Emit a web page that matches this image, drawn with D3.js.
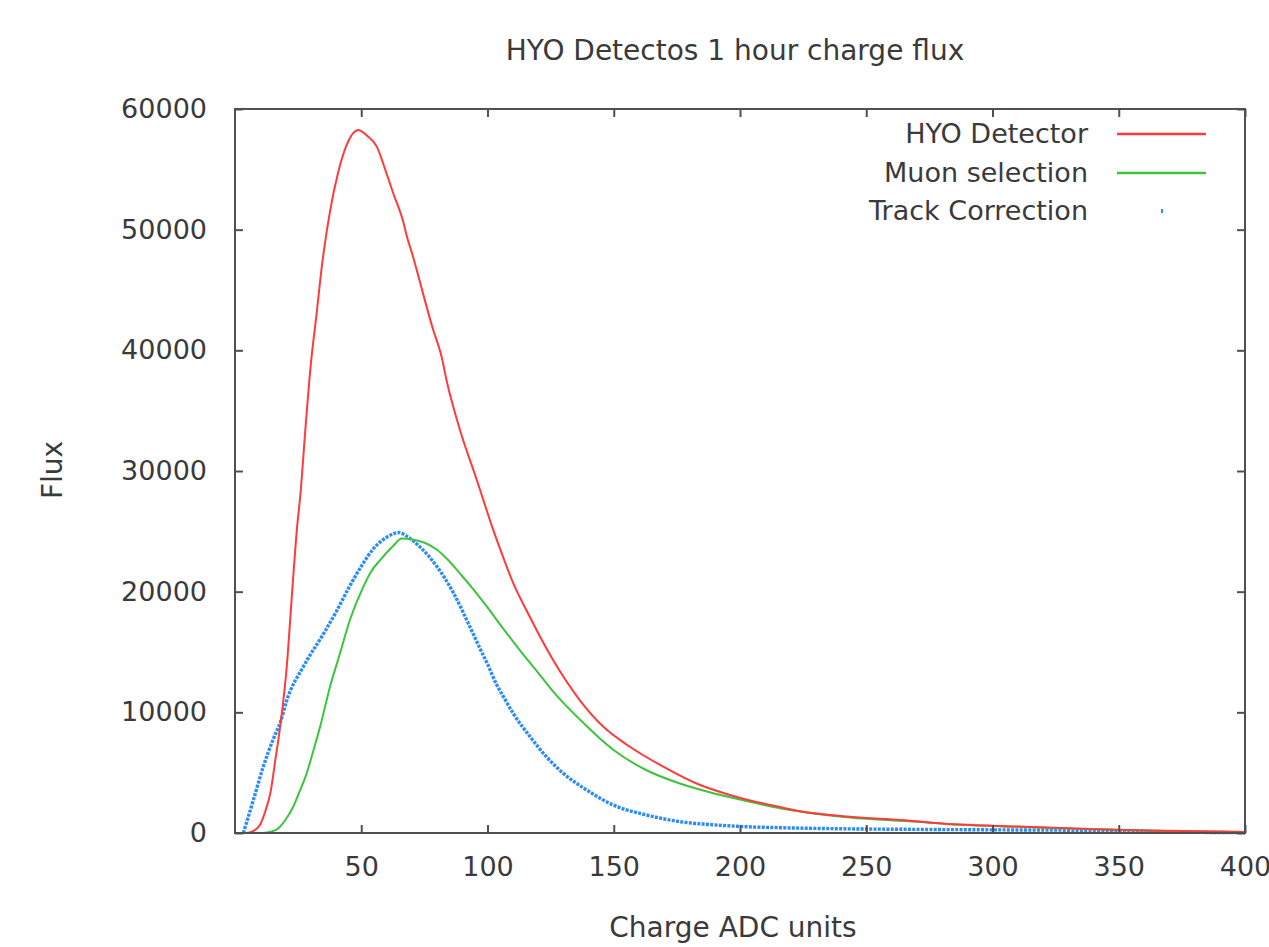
<!DOCTYPE html>
<html>
<head>
<meta charset="utf-8">
<script src="https://cdn.jsdelivr.net/npm/d3@7/dist/d3.min.js"></script>
<style>
  html, body { margin: 0; padding: 0; background: #ffffff; }
  svg { display: block; }
  text { font-family: "DejaVu Sans", sans-serif; fill: #3a3a3a; }
</style>
</head>
<body>
<svg id="chart" width="1269" height="947"></svg>
<script>
// ---- Data ----
const seriesNames = ["HYO Detector", "Muon selection", "Track Correction"];
const seriesColors = ["#ff3b3b", "#3cc43c", "#2a8cf8"];

const xTicks = [50, 100, 150, 200, 250, 300, 350, 400];
const yTicks = [0, 10000, 20000, 30000, 40000, 50000, 60000];

const hyoCharge = [5, 7.5, 10, 12, 14, 16, 18, 20.5, 22.4, 24.4, 26, 28, 30, 32.3, 34.3, 37.6, 40.8, 44.2, 48.8, 52.2, 56.1, 60.1, 62.7, 66.7, 68, 70.6, 74.6, 78.2, 81.9, 83.8, 89.1, 95.7, 102.3, 106.3, 110.2, 116.8, 120, 126.1, 136.6, 145.9, 156.4, 169.6, 182.8, 196, 204, 215.8, 223.8, 243.6, 263.4, 287, 310, 336, 362, 389, 400];
const hyoFlux   = [0, 200, 700, 1800, 3300, 6100, 9000, 13800, 19300, 24900, 28300, 33800, 38800, 43000, 46800, 51500, 54700, 57000, 58250, 57800, 56900, 54600, 53000, 50600, 49500, 47700, 44600, 41900, 39400, 37500, 33400, 29300, 25100, 22800, 20700, 17900, 16600, 14300, 11000, 8800, 7150, 5500, 4100, 3150, 2700, 2150, 1800, 1350, 1080, 700, 530, 350, 200, 120, 90];

const muonCharge = [11, 14, 17.2, 20, 23.1, 25.5, 28.4, 31, 33.7, 37.6, 41.6, 45.5, 50.8, 54, 57.4, 62.7, 66, 70.6, 74.6, 79.9, 84.5, 89.1, 94, 100, 106, 113, 120, 126.1, 136.6, 149.8, 163, 176.2, 189.4, 202.6, 215.8, 230, 243.6, 270, 287, 309.6, 336, 362, 389, 400];
const muonFlux   = [0, 100, 400, 1100, 2200, 3400, 4950, 6800, 8800, 12100, 14900, 17650, 20400, 21700, 22600, 23800, 24400, 24300, 24100, 23500, 22600, 21500, 20300, 18700, 17000, 15100, 13300, 11700, 9400, 6900, 5200, 4100, 3300, 2650, 2050, 1600, 1280, 940, 680, 520, 340, 190, 110, 80];

const trackCharge = [3.3, 7.3, 11.2, 15.2, 18, 20.5, 27.1, 35, 40, 45, 50, 55, 60, 65, 68, 73.3, 79.9, 86.5, 93, 97, 100, 103.6, 106.3, 110.2, 116.8, 123.4, 130, 139.3, 149.8, 163, 176.2, 189.4, 202.6, 215.8, 240, 270, 300, 330, 360, 380, 400];
const trackFlux   = [0, 2750, 5500, 7800, 9200, 11000, 13800, 16500, 18300, 20300, 22100, 23600, 24500, 24900, 24600, 23700, 22100, 19900, 17100, 15300, 14000, 12300, 11300, 9900, 8000, 6300, 4950, 3560, 2320, 1490, 940, 680, 520, 440, 350, 300, 260, 230, 150, 60, 30];

const chartTitle = "HYO Detectos 1 hour charge flux";
const xTitle = "Charge ADC units";
const yTitle = "Flux";

// ---- Layout ----
const L = 235, R = 1245, T = 109, B = 833;
const svg = d3.select("#chart");
const x = d3.scaleLinear().domain([0, 400]).range([L, R]);
const y = d3.scaleLinear().domain([0, 60000]).range([B, T]);

const frameColor = "#505050";
const fontSize = 27;

// ---- Series lines ----
const line = d3.line()
  .x(d => x(d[0]))
  .y(d => y(d[1]))
  .curve(d3.curveMonotoneX);

const series = [
  d3.zip(hyoCharge, hyoFlux),
  d3.zip(muonCharge, muonFlux),
  d3.zip(trackCharge, trackFlux)
];

const plot = svg.append("g");
plot.append("path")
  .datum(series[2])
  .attr("d", line)
  .attr("fill", "none")
  .attr("stroke", seriesColors[2])
  .attr("stroke-width", 3.4)
  .attr("stroke-dasharray", "3,1.3");

plot.append("path")
  .datum(series[1])
  .attr("d", line)
  .attr("fill", "none")
  .attr("stroke", seriesColors[1])
  .attr("stroke-width", 2);

plot.append("path")
  .datum(series[0])
  .attr("d", line)
  .attr("fill", "none")
  .attr("stroke", seriesColors[0])
  .attr("stroke-width", 2);

// ---- Axes (inward ticks, mirrored) ----
const fmt = d3.format("d");
const xAxis = svg.append("g")
  .attr("transform", `translate(0,${B})`)
  .call(d3.axisBottom(x).tickValues(xTicks).tickFormat(fmt).tickSizeInner(-8).tickSizeOuter(0).tickPadding(24));
const xAxisTop = svg.append("g")
  .attr("transform", `translate(0,${T})`)
  .call(d3.axisTop(x).tickValues(xTicks).tickSizeInner(-8).tickSizeOuter(0).tickFormat(""));
const yAxis = svg.append("g")
  .attr("transform", `translate(${L},0)`)
  .call(d3.axisLeft(y).tickValues(yTicks).tickFormat(fmt).tickSizeInner(-8).tickSizeOuter(0).tickPadding(28));
const yAxisRight = svg.append("g")
  .attr("transform", `translate(${R},0)`)
  .call(d3.axisRight(y).tickValues(yTicks).tickSizeInner(-8).tickSizeOuter(0).tickFormat(""));

[xAxis, xAxisTop, yAxis, yAxisRight].forEach(g => {
  g.select(".domain").remove();
  g.selectAll(".tick line").attr("stroke", frameColor).attr("stroke-width", 2);
  g.selectAll(".tick text")
    .attr("font-family", "DejaVu Sans, sans-serif")
    .attr("font-size", fontSize)
    .attr("fill", "#3a3a3a");
});

// frame
svg.append("rect")
  .attr("x", L).attr("y", T)
  .attr("width", R - L).attr("height", B - T)
  .attr("fill", "none")
  .attr("stroke", frameColor)
  .attr("stroke-width", 2);

// ---- Titles ----
svg.append("text")
  .attr("x", 735).attr("y", 50)
  .attr("text-anchor", "middle")
  .attr("dominant-baseline", "central")
  .attr("font-size", 28)
  .text(chartTitle);

svg.append("text")
  .attr("x", 733).attr("y", 927)
  .attr("text-anchor", "middle")
  .attr("dominant-baseline", "central")
  .attr("font-size", 28)
  .text(xTitle);

svg.append("text")
  .attr("transform", "translate(52,470) rotate(-90)")
  .attr("text-anchor", "middle")
  .attr("dominant-baseline", "central")
  .attr("font-size", 28)
  .text(yTitle);

// ---- Legend ----
const legendY = [133, 172, 210];
const legend = svg.append("g");
seriesNames.forEach((name, i) => {
  legend.append("text")
    .attr("x", 1088).attr("y", legendY[i])
    .attr("text-anchor", "end")
    .attr("dominant-baseline", "central")
    .attr("font-size", fontSize)
    .text(name);
  if (i < 2) {
    legend.append("line")
      .attr("x1", 1117).attr("x2", 1206)
      .attr("y1", legendY[i] + 1).attr("y2", legendY[i] + 1)
      .attr("stroke", seriesColors[i])
      .attr("stroke-width", 2.5);
  } else {
    legend.append("rect")
      .attr("x", 1161).attr("y", legendY[i] - 1)
      .attr("width", 2).attr("height", 4)
      .attr("fill", seriesColors[i]);
  }
});
</script>
</body>
</html>
